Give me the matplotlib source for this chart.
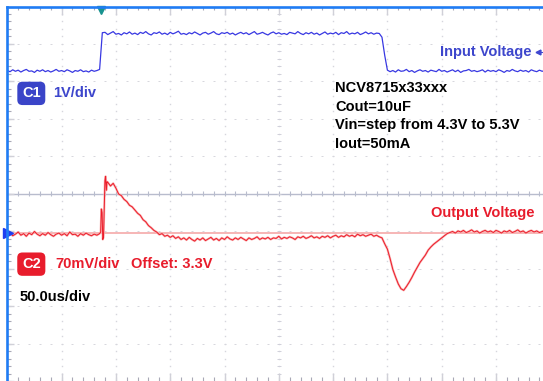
import numpy as np
import matplotlib
matplotlib.use('Agg')
import matplotlib.pyplot as plt

# scope capture: 50 us/div, 10 x 10 divisions
sample_us = 2.5

# C1 input voltage (V), one sample every 2.5 us from 0 to 500 us
vin_low_a = [4.31, 4.28, 4.33, 4.29, 4.32, 4.27, 4.31, 4.34, 4.29, 4.30,
             4.26, 4.32, 4.29, 4.33, 4.28, 4.31, 4.27, 4.30, 4.34, 4.29,
             4.31, 4.28, 4.33, 4.30, 4.26, 4.31, 4.29, 4.33, 4.28, 4.30,
             4.27, 4.32, 4.29, 4.31]
vin_rise = [4.34, 5.32]
vin_high = [5.33, 5.27, 5.31, 5.35, 5.28, 5.30, 5.26, 5.32, 5.29, 5.34,
            5.28, 5.31, 5.27, 5.33, 5.30, 5.35, 5.29, 5.26, 5.32, 5.30,
            5.34, 5.28, 5.31, 5.27, 5.33, 5.29, 5.32, 5.36, 5.28, 5.30,
            5.27, 5.32, 5.29, 5.34, 5.30, 5.26, 5.31, 5.33, 5.28, 5.31,
            5.35, 5.29, 5.27, 5.32, 5.30, 5.33, 5.28, 5.31, 5.26, 5.30,
            5.33, 5.29, 5.32, 5.27, 5.31, 5.35, 5.28, 5.30, 5.33, 5.29,
            5.26, 5.31, 5.34, 5.29, 5.32, 5.28, 5.30, 5.27, 5.33, 5.31,
            5.29, 5.35, 5.30, 5.27, 5.32, 5.29, 5.33, 5.28, 5.31, 5.26,
            5.30, 5.34, 5.28, 5.31, 5.29, 5.33, 5.27, 5.32, 5.30, 5.35,
            5.28, 5.31, 5.29, 5.33, 5.27, 5.30, 5.34, 5.29, 5.32, 5.28,
            5.31, 5.30]
vin_fall = [5.20, 4.72]
vin_low_b = [4.32, 4.28, 4.31, 4.27, 4.33, 4.29, 4.30, 4.34, 4.28, 4.31,
             4.26, 4.30, 4.33, 4.29, 4.31, 4.27, 4.32, 4.30, 4.28, 4.34,
             4.29, 4.31, 4.27, 4.30, 4.33, 4.28, 4.32, 4.26, 4.30, 4.31,
             4.34, 4.29, 4.31, 4.28, 4.30, 4.33, 4.27, 4.32, 4.29, 4.31,
             4.28, 4.33, 4.30, 4.26, 4.31, 4.29, 4.34, 4.30, 4.28, 4.32,
             4.29, 4.31, 4.27, 4.33, 4.30, 4.28, 4.32, 4.29, 4.31, 4.34,
             4.30]

# C2 output deviation from 3.3 V (mV)
vout_pre = [-3, 1, -5, -2, 2, -4, -1, -6, 0, -3, 3, -2, -5, -1, -4, 1, -3,
            -6, -2, 0, -4, -1, -5, 2, -3, -2, -6, -1, -4, 0, -3, -5, -2, -4,
            -1]
spike_us = [86.0, 86.6, 87.3, 87.9, 88.6, 89.3, 89.9, 90.5, 91.2, 91.8]
spike_mv = [2, 45, 38, -12, -8, 45, 98, 106, 80, 96]
vout_post = [95, 88, 93, 84, 73, 70, 63, 59, 52, 49, 43, 37, 33, 25, 21, 14,
             10, 5, 2, -3,
             -1, -6, -4, -8, -5, -10, -7, -12, -9, -13, -8, -12, -15, -10,
             -13, -9, -14, -11, -8, -13,
             -10, -14, -9, -12, -7, -11, -13, -9, -12, -8, -11, -14, -9, -12,
             -10, -7, -12, -9, -11, -8,
             -12, -9, -10, -6, -11, -8, -10, -7, -9, -12, -7, -9, -6, -10,
             -8, -5, -9, -7, -10, -6,
             -8, -5, -9, -6, -4, -8, -5, -7, -3, -6, -4, -7, -2, -5, -3, -6,
             -4, -2, -6, -4,
             -7, -9, -20, -30, -48, -68, -82, -95, -104, -107, -100, -92, -83,
             -73, -64, -55, -48, -41, -32, -26,
             -21, -17, -13, -9, -5, -1, 1, 3, 0, 4, 2, 5, 1, 3, 6, 2, 4, 0, 3,
             5,
             2, 4, 1, 5, 3, 0, 4, 2, 5, 1, 3, 6, 2, 4, 0, 3, 5, 2, 4, 1,
             3, 5, 2, 4]

c1_volts_per_div = 1.0
c1_position = -1.02      # divisions
c2_mv_per_div = 70.0
c2_position = -1.05      # divisions
trigger_us = 86.4

vin = np.array(vin_low_a + vin_rise + vin_high + vin_fall + vin_low_b)
t_vin = np.arange(len(vin)) * sample_us
t_vout = np.concatenate([np.arange(len(vout_pre)) * sample_us,
                         spike_us,
                         92.5 + np.arange(len(vout_post)) * sample_us])
vout = np.array(vout_pre + spike_mv + vout_post, dtype=float)

c1_div = vin / c1_volts_per_div + c1_position
c2_div = vout / c2_mv_per_div + c2_position

fig = plt.figure(figsize=(5.43, 3.81), dpi=100)
ax = fig.add_axes([7.3 / 543, 0, 1.0, 374.5 / 381])
ax.set_xlim(0, 500)
ax.set_ylim(-5, 5)
ax.set_xticks([])
ax.set_yticks([])
for side in ['right', 'bottom']:
    ax.spines[side].set_visible(False)
for side in ['left', 'top']:
    ax.spines[side].set_color('#1f7cf4')
    ax.spines[side].set_linewidth(1.9)

grid_c = '#d6d6dc'
tick_c = '#a8a8b6'
minor_t = np.arange(0, 501, 10)
minor_d = np.arange(-5, 5.01, 0.2)
major_t = np.arange(0, 501, 50)
major_d = np.arange(-5, 6, 1)

# dotted major divisions
for t in major_t[1:-1]:
    ax.plot(np.full_like(minor_d, t), minor_d, ls='none', marker='s',
            ms=1.0, mew=0, color=grid_c)
for d in major_d[1:-1]:
    if d == 0:
        continue
    ax.plot(minor_t, np.full(len(minor_t), d), ls='none', marker='_',
            ms=2.0, mew=0.7, color=grid_c)

# centre axis with ticks
ax.axhline(0, color='#b8bccd', lw=1.0)
ax.vlines(minor_t, -0.07, 0.07, color='#b8bccd', lw=0.8)
ax.hlines(minor_d, 248.2, 251.8, color='#d0d0da', lw=0.7)

# border ticks
ax.vlines(minor_t, 4.9, 5, color=tick_c, lw=0.8)
ax.vlines(major_t, 4.78, 5, color='#d0d0d8', lw=1.0)
ax.vlines(minor_t, -5, -4.9, color=tick_c, lw=0.8)
ax.vlines(major_t, -5, -4.78, color='#d0d0d8', lw=1.0)
ax.hlines(minor_d, 0, 3.6, color=tick_c, lw=0.8)
ax.hlines(major_d, 0, 6.0, color='#d0d0d8', lw=1.0)

# traces
ax.axhline(c2_position, color='#f4a2a2', lw=1.1)
ax.plot(t_vout, c2_div, color='#f9b4b4', lw=1.6, solid_joinstyle='round')
ax.plot(t_vout, c2_div, color='#ec1c2a', lw=0.7)
ax.plot(t_vin, c1_div, color='#3838e2', lw=0.9)

# trigger and channel markers
ax.plot(trigger_us, 4.9, marker='v', ms=5.5, color='#17928f', clip_on=False)
ax.plot(0.8, c2_position, marker='>', ms=7, color='#1e3ef0', clip_on=False)
ax.plot(488.7, 3.78, marker='<', ms=3.5, color='#4048d0', clip_on=False)
ax.plot([489.5, 494], [3.78, 3.78], color='#4048d0', lw=0.8)

blue_txt = '#3d46cc'
red_txt = '#e81c2c'
fnt = dict(family='Liberation Sans', weight='bold', size=10.5)

ax.text(22.1, 2.68, 'C1', color='white', ha='center', va='center',
        bbox=dict(boxstyle='round,pad=0.32,rounding_size=0.35',
                  fc='#3a44c8', ec='none'), **fnt)
ax.text(42.1, 2.68, '1V/div', color=blue_txt, ha='left', va='center', **fnt)
ax.text(22.1, -1.88, 'C2', color='white', ha='center', va='center',
        bbox=dict(boxstyle='round,pad=0.32,rounding_size=0.35',
                  fc='#e81c2c', ec='none'), **fnt)
ax.text(43.9, -1.88, '70mV/div', color=red_txt, ha='left', va='center',
        **fnt)
ax.text(113.9, -1.88, 'Offset: 3.3V', color=red_txt, ha='left',
        va='center', **fnt)
ax.text(11.7, -2.76, '50.0us/div', color='black', ha='left', va='center',
        **fnt)

notes = ['NCV8715x33xxx', 'Cout=10uF', 'Vin=step from 4.3V to 5.3V',
         'Iout=50mA']
for i, line in enumerate(notes):
    ax.text(301.7, 2.82 - 0.497 * i, line, color='black', ha='left',
            va='center', **fnt)

ax.text(483.1, 3.78, 'Input Voltage', color=blue_txt, ha='right',
        va='center', **fnt)
ax.text(485.9, -0.52, 'Output Voltage', color=red_txt, ha='right',
        va='center', **fnt)

fig.savefig('out.png', dpi=100)
